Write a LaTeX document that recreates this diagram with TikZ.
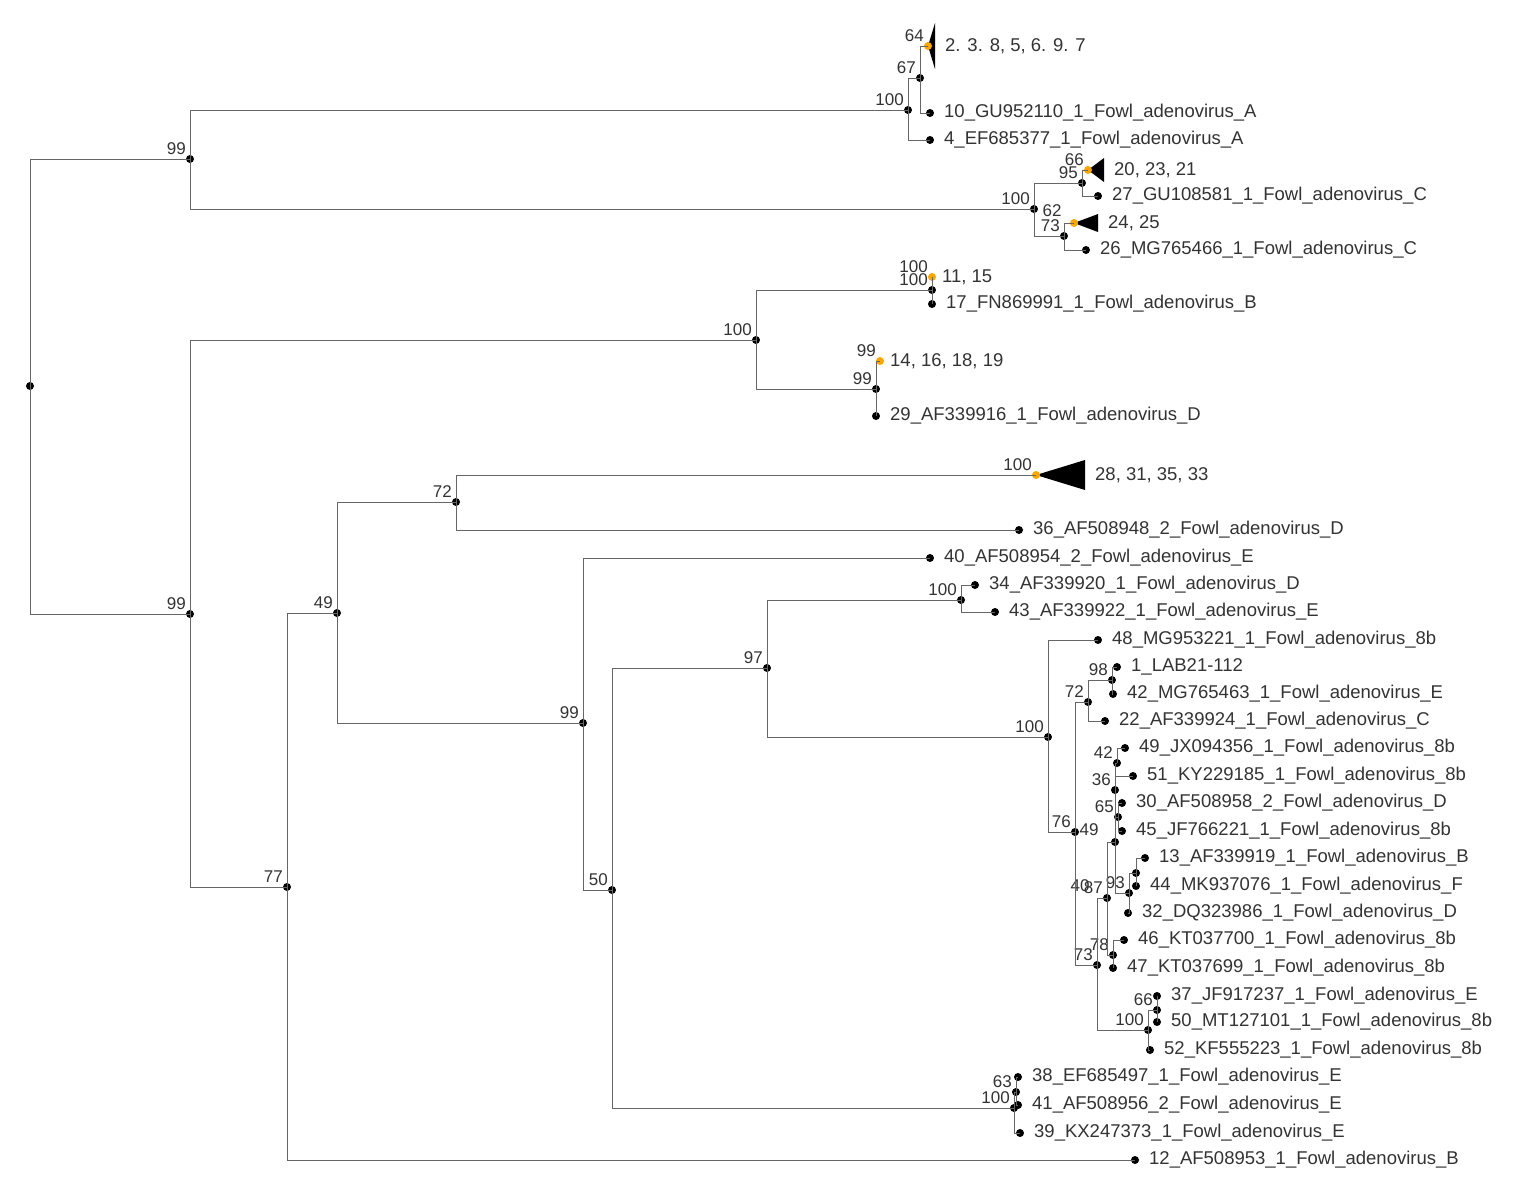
\documentclass[tikz,border=0pt]{standalone}
\usepackage{fontspec}
\setmainfont{Liberation Sans}
\begin{document}
\begin{tikzpicture}[x=1pt,y=-1pt,
 edge/.style={draw=black!60,line width=0.9pt},
 dot/.style={circle,fill=black,inner sep=0pt,minimum size=8pt},
 odot/.style={circle,fill=orange!70!yellow,inner sep=0pt,minimum size=8pt},
 lab/.style={font=\fontsize{17}{18}\selectfont,text=black!80,inner sep=1pt},
 tiptext/.style={anchor=west,font=\fontsize{18.5}{20}\selectfont,text=black!80,inner sep=0pt,xshift=14pt}]
\useasboundingbox (0,0) rectangle (1529,1203);
\fill[white] (0,0) rectangle (1529,1203);
\newcommand\tp[4]{\node[dot] (#1) at (#2,#3) {}; \node[tiptext] at (#1.center) {#4};}
\newcommand\inn[5]{\node[dot,label={[lab]#4:#5}] (#1) at (#2,#3) {};}
\newcommand\cl[7]{\fill (#2,#3) -- (#2+#4,#3-#5) -- (#2+#4,#3+#5) -- cycle;
 \node[odot,label={[lab]above left:#6}] (#1) at (#2,#3) {};
 \node[tiptext,xshift=-4pt] at (#2+#4,#3) {#7};}
% internal nodes
\inn{R}{30}{386}{above}{}
\inn{A1}{190}{159}{above left}{99}
\inn{B1}{190}{614}{above left}{99}
\inn{FA}{908}{110}{above left}{100}
\inn{n67}{920}{78}{above left}{67}
\inn{FC}{1034}{209}{above left}{100}
\node[lab] at (1052,211) {62};
\inn{n95}{1082}{183}{above left}{95}
\inn{n73}{1064}{236}{above left}{73}
\inn{BD}{756}{340}{above left}{100}
\inn{B100}{932}{290}{above left}{100}
\inn{D99}{876}{389}{above left}{99}
\inn{C77}{287}{887}{above left}{77}
\inn{N49}{337}{613}{above left}{49}
\inn{N72}{456}{502}{above left}{72}
\inn{N99b}{583}{723}{above left}{99}
\inn{N50}{612}{890}{above left}{50}
\inn{N97}{767}{668}{above left}{97}
\inn{N100d}{961}{600}{above left}{100}
\inn{N100e}{1014}{1108}{above left}{100}
\inn{n63}{1016}{1092}{above left}{63}
\inn{N100g}{1048}{737}{above left}{100}
\inn{N76}{1075}{832}{above left}{76}
\inn{N72b}{1088}{702}{above left}{72}
\inn{N98}{1112}{680}{above left}{98}
\inn{N73}{1097}{965}{above left}{73}
\inn{N40}{1107}{898}{above left}{87}
\node[lab] at (1080,886) {40};
\inn{N49b}{1115}{842}{left}{}
\node[lab] at (1089,830) {49};
\inn{N36}{1115}{790}{above left}{36}
\inn{N42}{1117}{763}{above left}{42}
\inn{N65}{1118}{817}{above left}{65}
\inn{N93}{1129}{893}{above left}{93}
\inn{n13p}{1136}{873}{above}{}
\inn{N78}{1113}{955}{above left}{78}
\inn{N100f}{1148}{1030}{above left}{100}
\inn{n66}{1157}{1010}{above left}{66}
% collapsed clades
\cl{c64}{928}{46}{7}{23}{64}{2. 3. 8, 5, 6. 9. 7}
\cl{c66}{1088}{170}{16}{12}{66}{20, 23, 21}
\cl{c24}{1074}{223}{24}{9}{}{24, 25}
\cl{c11}{932}{277}{0}{0}{100}{11, 15}
\cl{c14}{880}{361}{0}{0}{99}{14, 16, 18, 19}
\cl{c28}{1036}{475}{49}{15}{100}{28, 31, 35, 33}
% tips
\tp{t10}{930}{113}{10\_GU952110\_1\_Fowl\_adenovirus\_A}
\tp{t4}{930}{140}{4\_EF685377\_1\_Fowl\_adenovirus\_A}
\tp{t27}{1098}{196}{27\_GU108581\_1\_Fowl\_adenovirus\_C}
\tp{t26}{1086}{250}{26\_MG765466\_1\_Fowl\_adenovirus\_C}
\tp{t17}{932}{304}{17\_FN869991\_1\_Fowl\_adenovirus\_B}
\tp{t29}{876}{416}{29\_AF339916\_1\_Fowl\_adenovirus\_D}
\tp{t36}{1019}{530}{36\_AF508948\_2\_Fowl\_adenovirus\_D}
\tp{t40}{930}{558}{40\_AF508954\_2\_Fowl\_adenovirus\_E}
\tp{t34}{975}{585}{34\_AF339920\_1\_Fowl\_adenovirus\_D}
\tp{t43}{995}{612}{43\_AF339922\_1\_Fowl\_adenovirus\_E}
\tp{t48}{1098}{640}{48\_MG953221\_1\_Fowl\_adenovirus\_8b}
\tp{t1}{1117}{667}{1\_LAB21-112}
\tp{t42}{1113}{694}{42\_MG765463\_1\_Fowl\_adenovirus\_E}
\tp{t22}{1105}{721}{22\_AF339924\_1\_Fowl\_adenovirus\_C}
\tp{t49}{1125}{748}{49\_JX094356\_1\_Fowl\_adenovirus\_8b}
\tp{t51}{1133}{776}{51\_KY229185\_1\_Fowl\_adenovirus\_8b}
\tp{t30}{1122}{803}{30\_AF508958\_2\_Fowl\_adenovirus\_D}
\tp{t45}{1122}{831}{45\_JF766221\_1\_Fowl\_adenovirus\_8b}
\tp{t13}{1145}{858}{13\_AF339919\_1\_Fowl\_adenovirus\_B}
\tp{t44}{1136}{886}{44\_MK937076\_1\_Fowl\_adenovirus\_F}
\tp{t32}{1128}{913}{32\_DQ323986\_1\_Fowl\_adenovirus\_D}
\tp{t46}{1124}{940}{46\_KT037700\_1\_Fowl\_adenovirus\_8b}
\tp{t47}{1113}{968}{47\_KT037699\_1\_Fowl\_adenovirus\_8b}
\tp{t37}{1157}{996}{37\_JF917237\_1\_Fowl\_adenovirus\_E}
\tp{t50}{1157}{1022}{50\_MT127101\_1\_Fowl\_adenovirus\_8b}
\tp{t52}{1150}{1050}{52\_KF555223\_1\_Fowl\_adenovirus\_8b}
\tp{t38}{1018}{1077}{38\_EF685497\_1\_Fowl\_adenovirus\_E}
\tp{t41}{1018}{1105}{41\_AF508956\_2\_Fowl\_adenovirus\_E}
\tp{t39}{1020}{1133}{39\_KX247373\_1\_Fowl\_adenovirus\_E}
\tp{t12}{1135}{1160}{12\_AF508953\_1\_Fowl\_adenovirus\_B}
% edges
\foreach \p/\c in {R/A1,R/B1,A1/FA,A1/FC,FA/n67,FA/t4,n67/c64,n67/t10,
 FC/n95,FC/n73,n95/c66,n95/t27,n73/c24,n73/t26,
 B1/BD,B1/C77,BD/B100,BD/D99,B100/c11,B100/t17,D99/c14,D99/t29,
 C77/N49,C77/t12,N49/N72,N49/N99b,N72/c28,N72/t36,N99b/t40,N99b/N50,
 N50/N97,N50/N100e,N97/N100d,N97/N100g,N100d/t34,N100d/t43,
 N100e/n63,N100e/t39,n63/t38,n63/t41,
 N100g/t48,N100g/N76,N76/N72b,N76/N73,N72b/N98,N72b/t22,N98/t1,N98/t42,
 N73/N40,N73/N100f,N40/N49b,N40/N78,N49b/N36,N49b/N65,N49b/N93,
 N36/N42,N36/t51,N42/t49,N65/t30,N65/t45,N93/n13p,N93/t32,n13p/t13,n13p/t44,
 N78/t46,N78/t47,N100f/n66,N100f/t52,n66/t37,n66/t50}
 \draw[edge] (\p.center) |- (\c.center);
\end{tikzpicture}
\end{document}
